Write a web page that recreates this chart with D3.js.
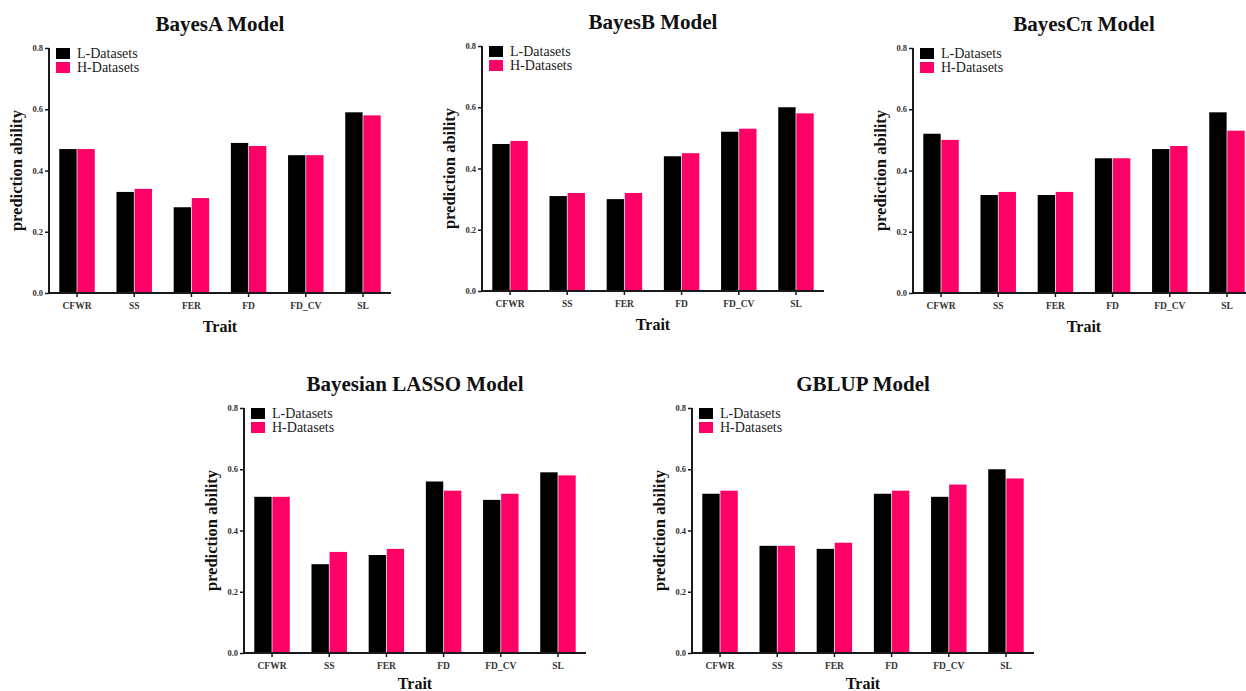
<!DOCTYPE html>
<html>
<head>
<meta charset="utf-8">
<script src="https://cdn.jsdelivr.net/npm/d3@7"></script>
<style>
  html, body { margin: 0; padding: 0; background: #fff; }
  svg { display: block; font-family: "Liberation Serif", "Times New Roman", serif; }
</style>
</head>
<body>
<svg id="chart" width="1246" height="691"></svg>
<script>
// data
const traits = ["CFWR", "SS", "FER", "FD", "FD_CV", "SL"];
const seriesNames = ["L-Datasets", "H-Datasets"];
const yTicks = [0.0, 0.2, 0.4, 0.6, 0.8];

const bayesA_L = [0.47, 0.33, 0.28, 0.49, 0.45, 0.59];
const bayesA_H = [0.47, 0.34, 0.31, 0.48, 0.45, 0.58];
const bayesB_L = [0.48, 0.31, 0.30, 0.44, 0.52, 0.60];
const bayesB_H = [0.49, 0.32, 0.32, 0.45, 0.53, 0.58];
const bayesC_L = [0.52, 0.32, 0.32, 0.44, 0.47, 0.59];
const bayesC_H = [0.50, 0.33, 0.33, 0.44, 0.48, 0.53];
const lasso_L  = [0.51, 0.29, 0.32, 0.56, 0.50, 0.59];
const lasso_H  = [0.51, 0.33, 0.34, 0.53, 0.52, 0.58];
const gblup_L  = [0.52, 0.35, 0.34, 0.52, 0.51, 0.60];
const gblup_H  = [0.53, 0.35, 0.36, 0.53, 0.55, 0.57];

// panel layout: left of y axis, y of 0.0 line, y of 0.8 line
const panels = [
  { title: "BayesA Model",         L: bayesA_L, H: bayesA_H, x0: 49,  y0: 293, y1: 48 },
  { title: "BayesB Model",         L: bayesB_L, H: bayesB_H, x0: 482, y0: 291, y1: 46 },
  { title: "BayesC\u03c0 Model",   L: bayesC_L, H: bayesC_H, x0: 913, y0: 293, y1: 48 },
  { title: "Bayesian LASSO Model", L: lasso_L,  H: lasso_H,  x0: 244, y0: 653, y1: 408 },
  { title: "GBLUP Model",          L: gblup_L,  H: gblup_H,  x0: 692, y0: 653, y1: 408 }
];

const plotW = 342;
const colors = ["#000000", "#ff0066"];
const axisColor = "#1a1a1a";

const svg = d3.select("#chart");

panels.forEach(p => {
  const g = svg.append("g");

  const x = d3.scaleBand().domain(traits)
    .range([p.x0, p.x0 + plotW])
    .paddingInner(0.38).paddingOuter(0.18);
  const xs = d3.scaleBand().domain(seriesNames)
    .range([0, x.bandwidth()]).paddingInner(0.04);
  const y = d3.scaleLinear().domain([0, 0.8]).range([p.y0, p.y1]);

  // bars
  const rows = traits.map((t, i) => ({ trait: t, vals: [p.L[i], p.H[i]] }));
  const grp = g.selectAll(".grp").data(rows).enter().append("g")
    .attr("transform", d => `translate(${x(d.trait)},0)`);
  grp.selectAll("rect")
    .data(d => d.vals.map((v, k) => ({ key: seriesNames[k], v, k })))
    .enter().append("rect")
    .attr("x", d => xs(d.key))
    .attr("width", xs.bandwidth())
    .attr("y", d => y(d.v))
    .attr("height", d => y(0) - y(d.v))
    .attr("fill", d => colors[d.k]);

  // y axis
  const ya = g.append("g")
    .attr("transform", `translate(${p.x0},0)`)
    .call(d3.axisLeft(y).tickValues(yTicks).tickFormat(d3.format(".1f")).tickSize(4).tickPadding(2));
  ya.select(".domain").attr("stroke", axisColor).attr("stroke-width", 2).attr("d", `M0,${p.y0}V${p.y1}`);
  ya.selectAll(".tick line").attr("stroke", axisColor).attr("stroke-width", 1.5);
  ya.selectAll(".tick text")
    .attr("fill", "#333").attr("font-size", 8.5).attr("font-weight", "bold")
    .attr("font-family", "Liberation Serif, serif");

  // x axis
  const xa = g.append("g")
    .attr("transform", `translate(0,${p.y0})`)
    .call(d3.axisBottom(x).tickSize(4).tickPadding(5));
  xa.select(".domain").attr("stroke", axisColor).attr("stroke-width", 2)
    .attr("d", `M${p.x0},0H${p.x0 + plotW}`);
  xa.selectAll(".tick line").attr("stroke", axisColor).attr("stroke-width", 1.5);
  xa.selectAll(".tick text")
    .attr("fill", "#333").attr("font-size", 9.5).attr("font-weight", "bold")
    .attr("font-family", "Liberation Serif, serif");

  // titles
  g.append("text")
    .attr("x", p.x0 + plotW / 2).attr("y", p.y1 - 17)
    .attr("text-anchor", "middle")
    .attr("font-size", 21).attr("font-weight", "bold").attr("fill", "#111")
    .text(p.title);

  // bottom row sits at the page edge, keep the axis title inside it
  g.append("text")
    .attr("x", p.x0 + plotW / 2).attr("y", Math.min(p.y0 + 39, 689))
    .attr("text-anchor", "middle")
    .attr("font-size", 16).attr("font-weight", "bold").attr("fill", "#111")
    .text("Trait");

  g.append("text")
    .attr("transform", `translate(${p.x0 - 27},${(p.y0 + p.y1) / 2}) rotate(-90)`)
    .attr("text-anchor", "middle")
    .attr("font-size", 16.5).attr("font-weight", "bold").attr("fill", "#111")
    .text("prediction ability");

  // legend
  const lg = g.selectAll(".lg").data(seriesNames).enter().append("g")
    .attr("transform", (d, i) => `translate(${p.x0 + 7},${p.y1 + i * 14})`);
  lg.append("rect").attr("width", 14).attr("height", 11)
    .attr("fill", (d, i) => colors[i]);
  lg.append("text").attr("x", 21).attr("y", 10)
    .attr("font-size", 14).attr("fill", "#222")
    .text(d => d);
});
</script>
</body>
</html>
